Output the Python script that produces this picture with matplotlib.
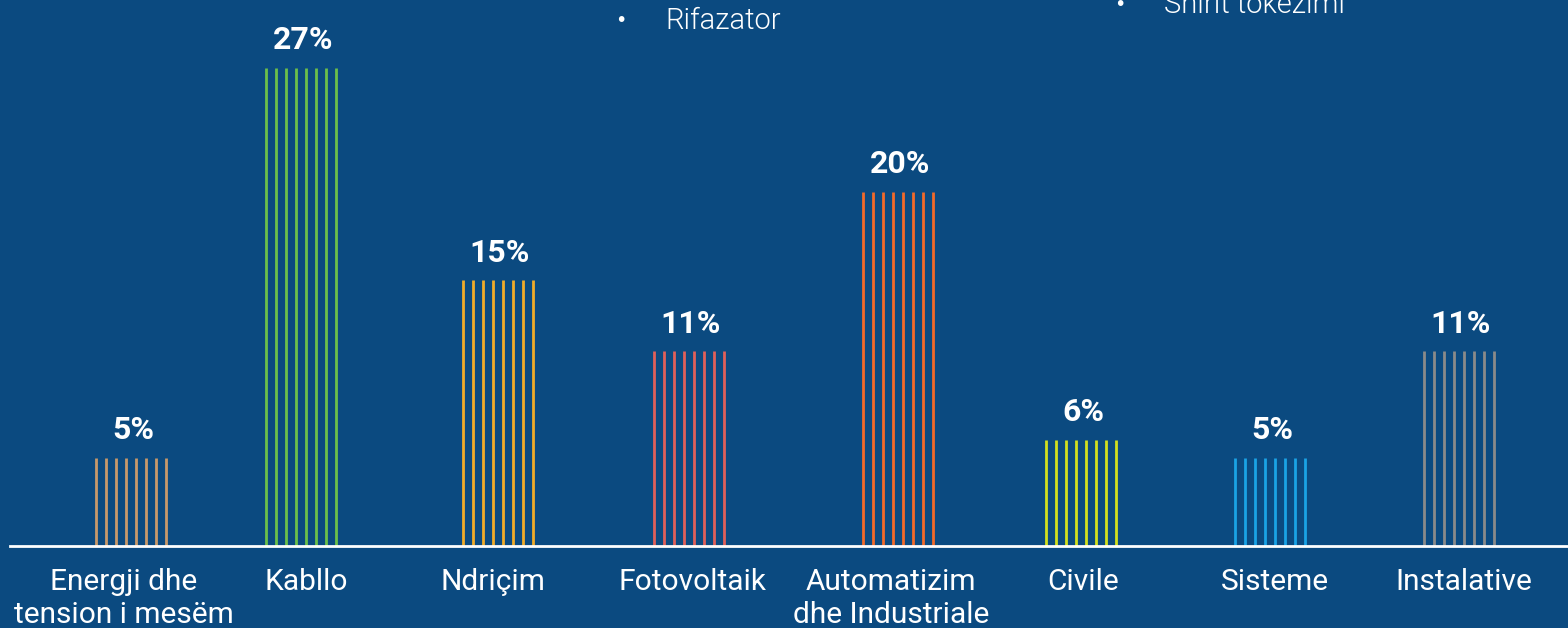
import matplotlib
matplotlib.use("Agg")
import matplotlib.pyplot as plt
import numpy as np

# ---- data ----
categories = ["Energji dhe\ntension i mesëm", "Kabllo", "Ndriçim", "Fotovoltaik",
              "Automatizim\ndhe Industriale", "Civile", "Sisteme", "Instalative"]
values = [5, 27, 15, 11, 20, 6, 5, 11]
value_labels = ["5%", "27%", "15%", "11%", "20%", "6%", "5%", "11%"]
bullets = ["Rifazator", "Shirit tokëzimi"]

# ---- layout / style ----
bar_x = [131, 301, 498, 689, 898, 1081, 1270, 1459]
label_x = [124, 306, 493, 693, 891, 1083, 1275, 1464]
colors = ["#c8996a", "#6cc04a", "#f0ac2a", "#e0605a", "#f26a2a", "#d2e01e", "#1aa3e6", "#8a8a8a"]
bg = "#0b4a80"
W, H = 1568, 628
baseline = 546
px_per_unit = 17.7

fig = plt.figure(figsize=(W / 100, H / 100), dpi=100, facecolor=bg)
ax = fig.add_axes([0, (H - baseline) / H, 1, baseline / H])
ax.set_facecolor(bg)
ax.set_xlim(0, W)
ax.set_ylim(0, baseline / px_per_unit)
ax.axis("off")

offsets = np.arange(8) * 10 - 35
for x, v, c, lab in zip(bar_x, values, colors, value_labels):
    ax.vlines(x + offsets, 0, v, colors=c, linewidth=2.0)
    ax.annotate(lab, (x + 2, v), xytext=(0, 20), textcoords="offset points",
                ha="center", va="center", color="white", fontsize=23,
                fontweight="bold", family="Roboto")

ax.axhline(0, xmin=10 / W, xmax=1, color="white", linewidth=2, clip_on=False)

for x, cat in zip(label_x, categories):
    for i, line in enumerate(cat.split("\n")):
        ypx = 582 + 33 * i
        ax.text(x, -(ypx - baseline) / px_per_unit, line, ha="center", va="center",
                color="white", fontsize=21.5, family="Roboto", clip_on=False)

# bullet notes at top
bullet_pos = [(621, 665, 21), (1120, 1164, 5)]
for (bx, tx, ty), b in zip(bullet_pos, bullets):
    fig.text(bx / W, 1 - ty / H, "•", ha="center", va="center", color="white",
             fontsize=14, family="DejaVu Sans")
    fig.text(tx / W, 1 - ty / H, b, ha="left", va="center", color="white",
             fontsize=21, family="Roboto", fontweight=300)

fig.savefig("out.png", dpi=100, facecolor=bg)
